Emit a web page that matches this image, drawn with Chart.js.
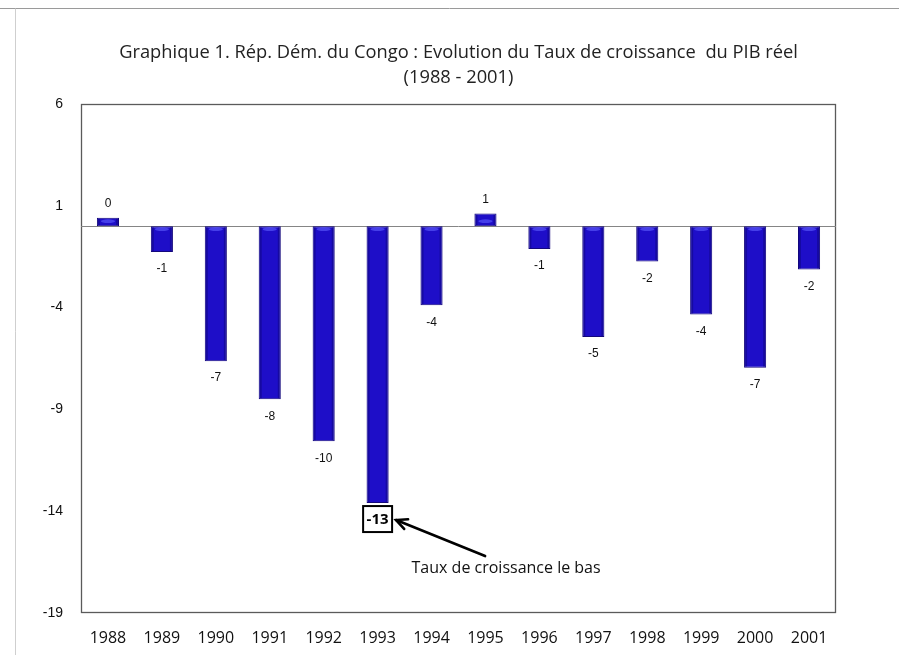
<!DOCTYPE html>
<html>
<head>
<meta charset="utf-8">
<script src="https://cdn.jsdelivr.net/npm/chart.js@4"></script>
<style>
  html, body { margin: 0; padding: 0; background: #fff; }
</style>
</head>
<body>
<canvas id="gdpChart" width="899" height="655"></canvas>
<script>
const years = ['1988', '1989', '1990', '1991', '1992', '1993', '1994', '1995', '1996', '1997', '1998', '1999', '2000', '2001'];
const growthRates = [0.41, -1.27, -6.63, -8.5, -10.57, -13.6, -3.89, 0.62, -1.12, -5.45, -1.74, -4.34, -6.95, -2.13];
const valueLabels = ['0', '-1', '-7', '-8', '-10', '-13', '-4', '1', '-1', '-5', '-2', '-4', '-7', '-2'];
const yTicks = [6, 1, -4, -9, -14, -19];
const titleLines = ['Graphique 1. Rép. Dém. du Congo : Evolution du Taux de croissance  du PIB réel', '(1988 - 2001)'];
const noteText = 'Taux de croissance le bas';

const sansFont = '"Open Sans", Lato, sans-serif';
const tickFont = '"Liberation Sans", Arial, sans-serif';

// everything Excel drew around the bars: page border, frame, zero line, labels, note
const decorPlugin = {
  id: 'decor',
  beforeDraw(chart) {
    const ctx = chart.ctx;
    ctx.save();
    ctx.fillStyle = '#fff';
    ctx.fillRect(0, 0, chart.width, chart.height);
    ctx.lineWidth = 1;
    ctx.strokeStyle = '#9a9a9a';
    ctx.beginPath();
    ctx.moveTo(0, 8.5);
    ctx.lineTo(chart.width, 8.5);
    ctx.stroke();
    ctx.strokeStyle = '#cfcfcf';
    ctx.beginPath();
    ctx.moveTo(15.5, 8.5);
    ctx.lineTo(15.5, chart.height);
    ctx.stroke();
    ctx.restore();
  },
  beforeDatasetsDraw(chart) {
    const { ctx, chartArea: a, scales: { y } } = chart;
    ctx.save();
    ctx.strokeStyle = '#5a5a5a';
    ctx.lineWidth = 1.3;
    ctx.strokeRect(a.left + 0.5, a.top + 0.5, a.right - a.left - 1, a.bottom - a.top - 1);
    const y0 = Math.round(y.getPixelForValue(0)) + 0.5;
    ctx.strokeStyle = '#858585';
    ctx.lineWidth = 1;
    ctx.beginPath();
    ctx.moveTo(a.left, y0);
    ctx.lineTo(a.right, y0);
    ctx.stroke();
    ctx.restore();
  },
  afterDatasetsDraw(chart) {
    const { ctx, chartArea: a } = chart;
    const bars = chart.getDatasetMeta(0).data;
    const lowest = growthRates.indexOf(Math.min(...growthRates));

    ctx.save();
    bars.forEach((bar, i) => {
      const up = growthRates[i] >= 0;
      const x0 = bar.x - bar.width / 2;
      const top = Math.min(bar.y, bar.base), h = Math.abs(bar.base - bar.y);
      // darker side edges
      ctx.fillStyle = 'rgba(10, 0, 90, 0.35)';
      ctx.fillRect(x0 + 1, top + 1, 2, h - 2);
      ctx.fillRect(x0 + bar.width - 3, top + 1, 2, h - 2);
      // light cap at the base of each bar (3D look)
      const yy = up ? bar.base - 5 : bar.base + 3;
      ctx.fillStyle = 'rgba(95, 95, 255, 0.6)';
      ctx.beginPath();
      ctx.ellipse(bar.x, yy, (bar.width - 8) / 2, 1.8, 0, 0, Math.PI * 2);
      ctx.fill();
    });

    // value labels
    ctx.fillStyle = '#111';
    ctx.font = '12px ' + tickFont;
    ctx.textAlign = 'center';
    ctx.textBaseline = 'middle';
    bars.forEach((bar, i) => {
      if (i === lowest) return;
      const ly = growthRates[i] >= 0 ? bar.y - 14 : bar.y + 17;
      ctx.fillText(valueLabels[i], bar.x, ly);
    });

    // boxed lowest value + arrow + note
    const lb = bars[lowest];
    const cx = lb.x, cy = lb.y + 16;
    ctx.font = 'bold 15px ' + sansFont;
    const tw = ctx.measureText(valueLabels[lowest]).width;
    const bw = tw + 7, bh = 26;
    ctx.fillStyle = '#fff';
    ctx.fillRect(cx - bw / 2, cy - bh / 2, bw, bh);
    ctx.strokeStyle = '#000';
    ctx.lineWidth = 2;
    ctx.strokeRect(cx - bw / 2, cy - bh / 2, bw, bh);
    ctx.fillStyle = '#000';
    ctx.fillText(valueLabels[lowest], cx, cy + 1);

    const tipX = cx + bw / 2 + 4, tipY = cy + 1;
    const tailX = tipX + 89, tailY = tipY + 36;
    const ang = Math.atan2(tipY - tailY, tipX - tailX);
    ctx.lineWidth = 2.6;
    ctx.lineCap = 'round';
    ctx.beginPath();
    ctx.moveTo(tailX, tailY);
    ctx.lineTo(tipX, tipY);
    ctx.stroke();
    ctx.beginPath();
    ctx.moveTo(tipX - 12 * Math.cos(ang - 0.45), tipY - 12 * Math.sin(ang - 0.45));
    ctx.lineTo(tipX, tipY);
    ctx.lineTo(tipX - 12 * Math.cos(ang + 0.45), tipY - 12 * Math.sin(ang + 0.45));
    ctx.stroke();

    ctx.font = '16px ' + sansFont;
    ctx.fillStyle = '#111';
    ctx.fillText(noteText, tailX + 21, tailY + 12);

    // title centred over the plot area
    const mid = (a.left + a.right) / 2;
    ctx.font = '18.3px ' + sansFont;
    ctx.fillStyle = '#222';
    ctx.fillText(titleLines[0], mid, a.top - 51);
    ctx.fillText(titleLines[1], mid, a.top - 26);
    ctx.restore();
  }
};

const ctx = document.getElementById('gdpChart').getContext('2d');
new Chart(ctx, {
  type: 'bar',
  data: {
    labels: years,
    datasets: [{
      label: 'Taux de croissance du PIB réel',
      data: growthRates,
      backgroundColor: '#1e0ec8',
      borderColor: '#14087c',
      borderWidth: 1,
      borderSkipped: false,
      categoryPercentage: 1,
      barPercentage: 0.41,
    }],
  },
  options: {
    responsive: false,
    animation: false,
    devicePixelRatio: 1,
    layout: { padding: { top: 104, right: 63, bottom: 0, left: 0 } },
    plugins: {
      legend: { display: false },
      title: { display: false },
      tooltip: { enabled: false },
    },
    scales: {
      x: {
        grid: { display: false, drawTicks: false },
        border: { display: false },
        ticks: {
          padding: 16,
          color: '#111',
          maxRotation: 0,
          autoSkip: false,
          font: { family: sansFont, size: 16 },
        },
        afterFit(scale) { scale.height = 42; },
      },
      y: {
        min: -19,
        max: 6,
        grid: { display: false, drawTicks: false },
        border: { display: false },
        afterBuildTicks(scale) { scale.ticks = yTicks.map(v => ({ value: v })); },
        ticks: {
          padding: 18,
          color: '#111',
          font: { family: tickFont, size: 14 },
        },
        afterFit(scale) { scale.width = 81; },
      },
    },
  },
  plugins: [decorPlugin],
});
</script>
</body>
</html>
